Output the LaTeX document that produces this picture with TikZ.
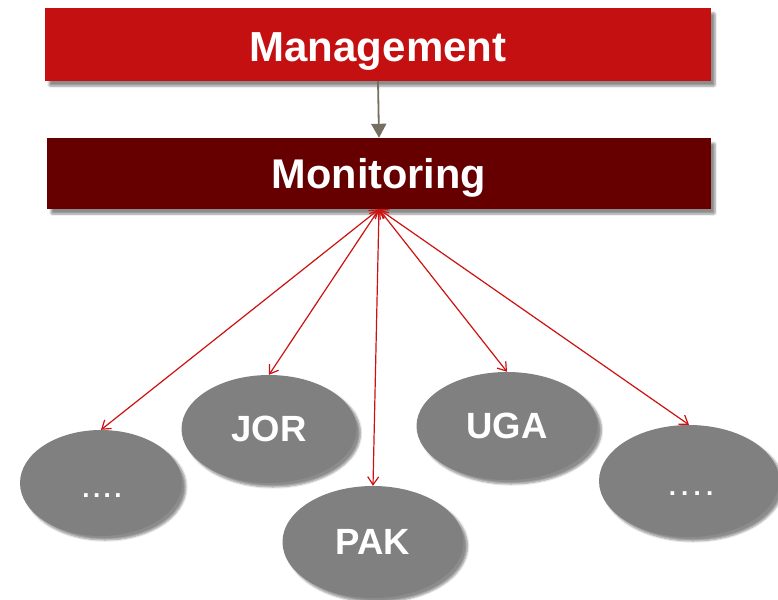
\documentclass[tikz,border=0pt]{standalone}
\usepackage{fontspec}
\setmainfont{Liberation Sans}
\usetikzlibrary{shapes.geometric,arrows.meta,shadows.blur}
\definecolor{mgmtred}{RGB}{196,16,16}
\definecolor{monred}{RGB}{102,0,0}
\definecolor{ovalgray}{RGB}{128,128,128}
\definecolor{linkred}{RGB}{204,17,17}
\definecolor{downgray}{RGB}{118,110,96}
\tikzset{
  bar/.style={rectangle,inner sep=0pt,text=white,text depth=0pt,
    blur shadow={shadow xshift=4pt,shadow yshift=-5pt,shadow blur steps=6,shadow blur extra rounding=1pt,shadow opacity=45}},
  oval/.style={ellipse,fill=ovalgray,inner sep=0pt,text=white,font=\bfseries\fontsize{36.5}{40}\selectfont,
    blur shadow={shadow xshift=4pt,shadow yshift=-4pt,shadow blur steps=6,shadow opacity=45}},
  dotlabel/.style={text=white,inner sep=0pt,font=\bfseries\fontsize{26}{30}\selectfont},
  link/.style={draw=linkred,line width=1.2pt,{Straight Barb[length=8pt,width=11pt]}-{Straight Barb[length=8pt,width=11pt]}},
  down/.style={draw=downgray,line width=1.8pt,-{Triangle[length=14pt,width=15pt]}}
}
\begin{document}
\begin{tikzpicture}[x=1pt,y=-1pt]
\useasboundingbox (0,0) rectangle (778,599);
\node[bar,fill=mgmtred,minimum width=666pt,minimum height=73pt,
  font=\bfseries\fontsize{42}{46}\selectfont,text height=35pt] (mgmt) at (378,44.5) {Management};
\node[bar,fill=monred,minimum width=664pt,minimum height=71pt,
  font=\bfseries\fontsize{41.5}{46}\selectfont,text height=29.7pt] (mon) at (379,173.5) {Monitoring};
\draw[down] (mgmt.south) -- (mon.north);
\node[oval,minimum width=162pt,minimum height=106pt,
  label={[dotlabel,yshift=-13pt,xshift=1pt]center:\addfontfeature{LetterSpace=13.5}....}] (o1) at (101,483) {};
\node[oval,minimum width=175pt,minimum height=108pt] (jor) at (269,429) {JOR};
\node[oval,minimum width=181pt,minimum height=112pt] (pak) at (373,542) {PAK};
\node[oval,minimum width=181pt,minimum height=108pt] (uga) at (507,426) {UGA};
\node[oval,minimum width=180pt,minimum height=112pt,
  label={[dotlabel,yshift=-13pt,xshift=2pt]center:\addfontfeature{LetterSpace=20}....}] (o2) at (689,481) {};
\foreach \t in {o1,jor,pak,uga,o2}
  \draw[link] (mon.south) -- (\t.north);
\end{tikzpicture}
\end{document}
